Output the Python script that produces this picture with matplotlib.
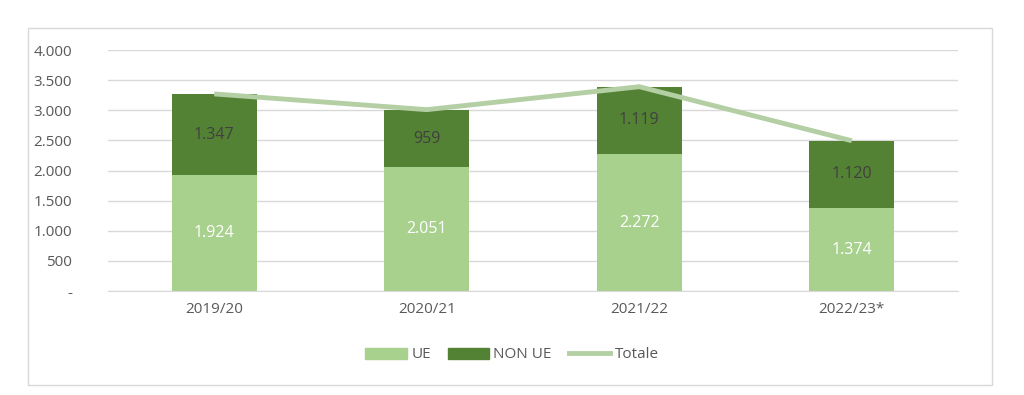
import matplotlib.pyplot as plt
from matplotlib.patches import Rectangle
from matplotlib.lines import Line2D
from matplotlib.ticker import FuncFormatter
import numpy as np

# data
years = ['2019/20', '2020/21', '2021/22', '2022/23*']
ue = [1924, 2051, 2272, 1374]
non_ue = [1347, 959, 1119, 1120]
totale = [3271, 3010, 3391, 2494]

ueColor = '#A9D18E'
nonUeColor = '#548235'
totColor = '#B4CFA4'
textColor = '#595959'

plt.rcParams['font.family'] = ['Open Sans', 'DejaVu Sans']

fig = plt.figure(figsize=(10.24, 3.95), dpi=100)
fig.patches.append(Rectangle((28/1024, 10/395), 964/1024, 357/395, transform=fig.transFigure,
                             fill=False, edgecolor='#D9D9D9', linewidth=1))
ax = fig.add_axes([108/1024, 104/395, 850/1024, 241/395])

x = np.arange(len(years))
ax.bar(x, ue, width=0.4, color=ueColor, zorder=2)
ax.bar(x, non_ue, width=0.4, bottom=ue, color=nonUeColor, zorder=2)
ax.plot(x, totale, color=totColor, linewidth=3.5, zorder=3, solid_capstyle='butt')

def fmt(v):
    return '{:,}'.format(v).replace(',', '.')

for i in range(len(years)):
    ax.text(x[i], ue[i] / 2, fmt(ue[i]), ha='center', va='center', color='white', fontsize=11.5, zorder=4)
    ax.text(x[i], ue[i] + non_ue[i] / 2, fmt(non_ue[i]), ha='center', va='center', color='#404040', fontsize=11.5, zorder=4)

ax.set_xlim(-0.5, 3.5)
ax.set_ylim(0, 4000)
ax.set_yticks(np.arange(0, 4001, 500))
ax.yaxis.set_major_formatter(FuncFormatter(lambda v, p: '-' if v == 0 else fmt(int(v))))
ax.set_xticks(x)
ax.set_xticklabels(years)
ax.tick_params(axis='both', length=0, colors=textColor, labelsize=11)
ax.tick_params(axis='y', pad=26)
ax.tick_params(axis='x', pad=8)
ax.grid(axis='y', color='#D9D9D9', linewidth=1, zorder=0)
ax.set_axisbelow(True)
for s in ax.spines.values():
    s.set_visible(False)
ax.spines['bottom'].set_visible(True)
ax.spines['bottom'].set_color('#D9D9D9')

handles = [Rectangle((0, 0), 1, 1, color=ueColor),
           Rectangle((0, 0), 1, 1, color=nonUeColor),
           Line2D([0], [0], color=totColor, linewidth=3.5)]
fig.legend(handles, ['UE', 'NON UE', 'Totale'], loc='center', bbox_to_anchor=(512/1024, 1 - 355/395),
           ncol=3, frameon=False, fontsize=11, labelcolor=textColor, handlelength=2.7,
           handleheight=0.7, columnspacing=1.1, handletextpad=0.3)

plt.savefig('out.png', dpi=100)
